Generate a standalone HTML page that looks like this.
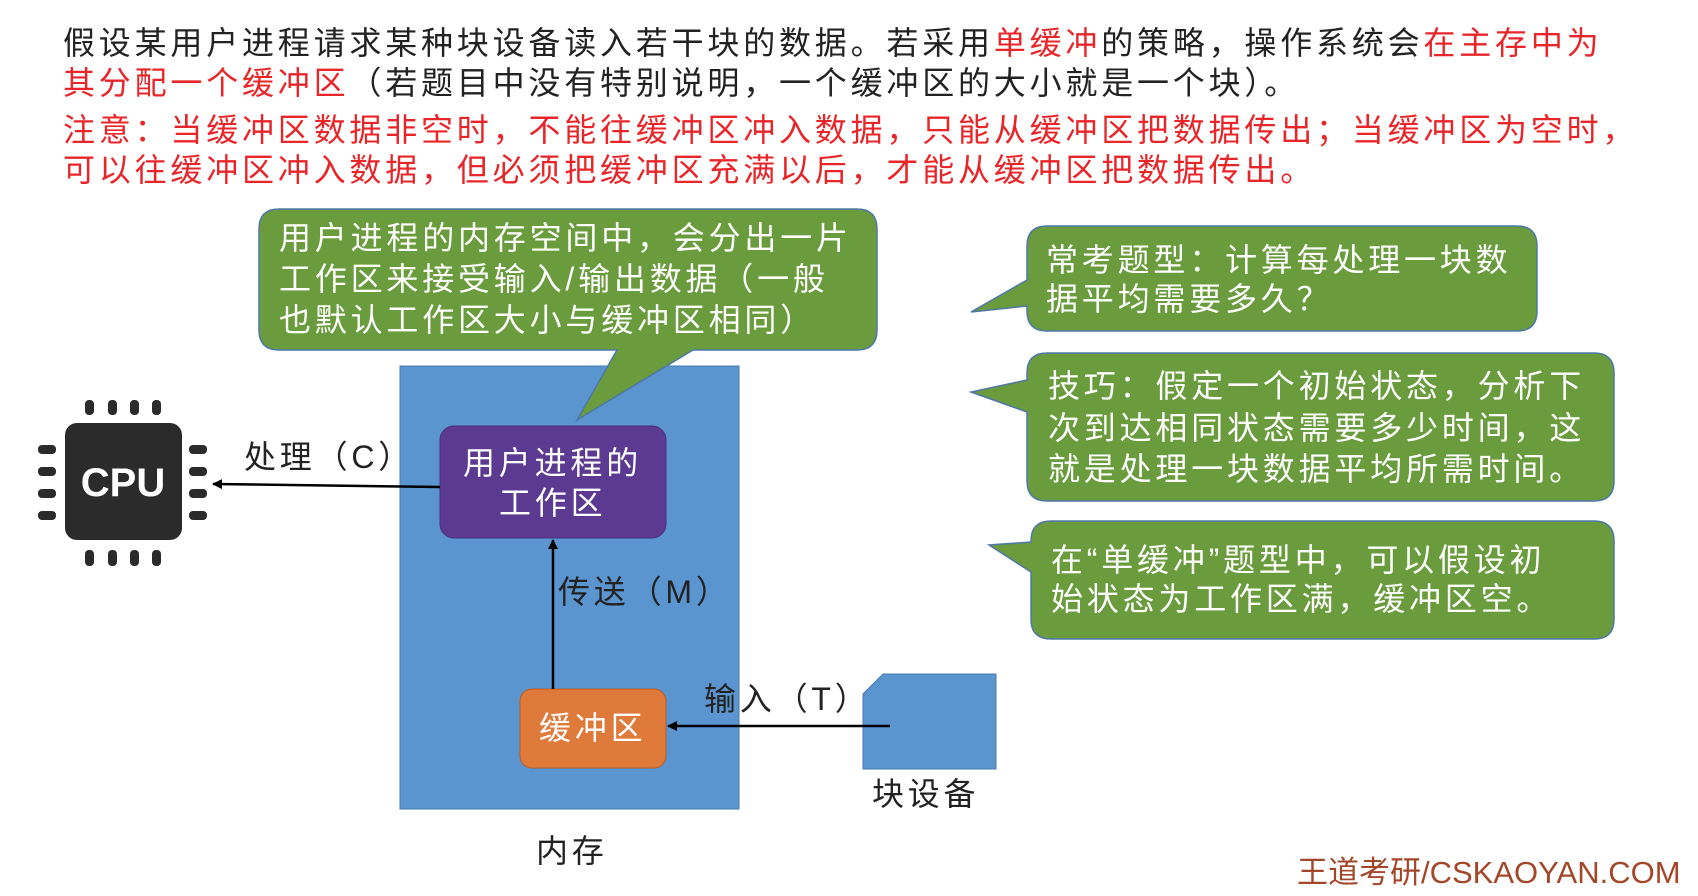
<!DOCTYPE html>
<html><head><meta charset="utf-8"><style>
body{margin:0;width:1698px;height:896px;background:#fff;position:relative;overflow:hidden;font-family:"Liberation Sans","Noto Sans CJK SC",sans-serif;}
.t{position:absolute;white-space:nowrap;font-size:32px;letter-spacing:3.8px;line-height:40px;color:#222;}
.r{color:#e8262a;}
.w{color:#fff;}
svg{position:absolute;left:0;top:0;}
</style></head><body>
<svg width="1698" height="896">
<defs><marker id="a" markerWidth="10" markerHeight="10" refX="9" refY="5" orient="auto" markerUnits="userSpaceOnUse"><path d="M0,0 L10,5 L0,10 z" fill="#000"/></marker></defs>
<rect x="400" y="366" width="339" height="443" fill="#5b95cf" stroke="#4a7ab0" stroke-width="1"/>
<path d="M279,209 H857 Q877,209 877,229 V330 Q877,350 857,350 H693 L577,420 L617,350 H279 Q259,350 259,330 V229 Q259,209 279,209 Z" fill="#6a9b3c" stroke="#4e78a8" stroke-width="1.5"/>
<path d="M1047,226 H1517 Q1537,226 1537,246 V311 Q1537,331 1517,331 H1047 Q1027,331 1027,311 V306 L971,312 L1027,280 V246 Q1027,226 1047,226 Z" fill="#6a9b3c" stroke="#4e78a8" stroke-width="1.5"/>
<path d="M1047,353 H1594 Q1614,353 1614,373 V481 Q1614,501 1594,501 H1047 Q1027,501 1027,481 V412 L971,392 L1027,380 V373 Q1027,353 1047,353 Z" fill="#6a9b3c" stroke="#4e78a8" stroke-width="1.5"/>
<path d="M1051,521 H1594 Q1614,521 1614,541 V619 Q1614,639 1594,639 H1051 Q1031,639 1031,619 V572 L989,545 L1031,542 V541 Q1031,521 1051,521 Z" fill="#6a9b3c" stroke="#4e78a8" stroke-width="1.5"/>
<rect x="440" y="426" width="226" height="112" rx="14" fill="#5c3a92" stroke="#4a2f7a"/>
<rect x="520" y="689" width="146" height="79" rx="12" fill="#e07a3b" stroke="#b55e28"/>
<path d="M883,674 H996 V769 H863 V694 Z" fill="#5b95cf" stroke="#4a7ab0"/>
<line x1="553" y1="689" x2="553" y2="540" stroke="#000" stroke-width="2.5" marker-end="url(#a)"/>
<line x1="890" y1="726" x2="668" y2="726" stroke="#000" stroke-width="2.5" marker-end="url(#a)"/>
<line x1="440" y1="487" x2="213" y2="484" stroke="#000" stroke-width="2.5" marker-end="url(#a)"/>
<rect x="65" y="423" width="117" height="117" rx="12" fill="#2b2b2b"/>
<g fill="#2b2b2b">
<rect x="85" y="400" width="9" height="15" rx="4"/><rect x="108" y="400" width="9" height="15" rx="4"/><rect x="130" y="400" width="9" height="15" rx="4"/><rect x="152" y="400" width="9" height="15" rx="4"/>
<rect x="85" y="550" width="9" height="16" rx="4"/><rect x="108" y="550" width="9" height="16" rx="4"/><rect x="130" y="550" width="9" height="16" rx="4"/><rect x="152" y="550" width="9" height="16" rx="4"/>
<rect x="38" y="445" width="18" height="9" rx="4"/><rect x="38" y="467" width="18" height="9" rx="4"/><rect x="38" y="489" width="18" height="9" rx="4"/><rect x="38" y="511" width="18" height="9" rx="4"/>
<rect x="189" y="445" width="18" height="9" rx="4"/><rect x="189" y="467" width="18" height="9" rx="4"/><rect x="189" y="489" width="18" height="9" rx="4"/><rect x="189" y="511" width="18" height="9" rx="4"/>
</g>
<text x="123" y="496" text-anchor="middle" font-family="Liberation Sans" font-weight="bold" font-size="40" fill="#fff">CPU</text>
</svg>
<div class="t" style="left:63px;top:23px;">假设某用户进程请求某种块设备读入若干块的数据。若采用<span class="r">单缓冲</span>的策略，操作系统会<span class="r">在主存中为</span></div>
<div class="t" style="left:63px;top:63px;"><span class="r">其分配一个缓冲区</span>（若题目中没有特别说明，一个缓冲区的大小就是一个块）。</div>
<div class="t r" style="left:63px;top:110px;">注意：当缓冲区数据非空时，不能往缓冲区冲入数据，只能从缓冲区把数据传出；当缓冲区为空时，</div>
<div class="t r" style="left:63px;top:150px;">可以往缓冲区冲入数据，但必须把缓冲区充满以后，才能从缓冲区把数据传出。</div>
<div class="t w" style="left:279px;top:218px;">用户进程的内存空间中，会分出一片</div>
<div class="t w" style="left:279px;top:259px;">工作区来接受输入/输出数据（一般</div>
<div class="t w" style="left:279px;top:300px;">也默认工作区大小与缓冲区相同）</div>
<div class="t w" style="left:1046px;top:240px;">常考题型：计算每处理一块数</div>
<div class="t w" style="left:1046px;top:279px;">据平均需要多久？</div>
<div class="t w" style="left:1048px;top:366px;">技巧：假定一个初始状态，分析下</div>
<div class="t w" style="left:1048px;top:408px;">次到达相同状态需要多少时间，这</div>
<div class="t w" style="left:1048px;top:449px;">就是处理一块数据平均所需时间。</div>
<div class="t w" style="left:1051px;top:540px;">在“单缓冲”题型中，可以假设初</div>
<div class="t w" style="left:1051px;top:579px;">始状态为工作区满，缓冲区空。</div>
<div class="t w" style="left:463px;top:443px;">用户进程的</div>
<div class="t w" style="left:499px;top:483px;">工作区</div>
<div class="t w" style="left:539px;top:708px;">缓冲区</div>
<div class="t" style="left:244px;top:437px;">处理（C）</div>
<div class="t" style="left:558px;top:572px;">传送（M）</div>
<div class="t" style="left:704px;top:679px;">输入（T）</div>
<div class="t" style="left:872px;top:774px;">块设备</div>
<div class="t" style="left:536px;top:831px;">内存</div>
<div class="t" style="left:1297px;top:853px;font-size:31px;letter-spacing:0;color:#a3472a;">王道考研/CSKAOYAN.COM</div>
</body></html>
